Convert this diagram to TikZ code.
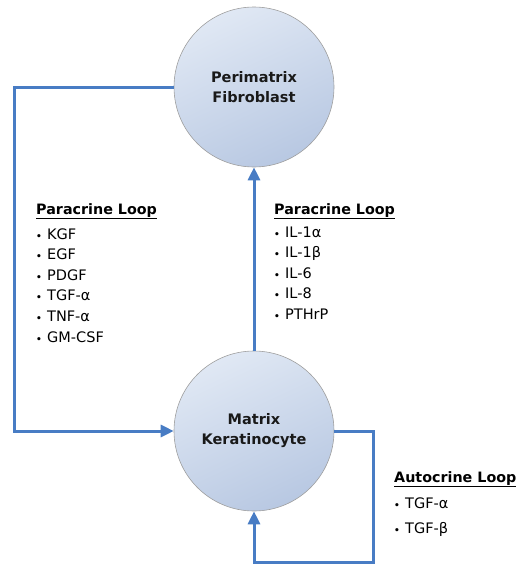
\documentclass[tikz,border=0pt]{standalone}
\usepackage{fontspec}
\setmainfont{DejaVu Sans}
\usetikzlibrary{arrows.meta}
\definecolor{linkblue}{RGB}{72,124,196}
\definecolor{celltop}{RGB}{224,232,244}
\definecolor{cellbot}{RGB}{184,200,226}
\begin{document}
\begin{tikzpicture}[x=1pt,y=-1pt,
  cell/.style={circle,minimum size=160pt,inner sep=0pt,draw=gray!75,line width=0.6pt,
    top color=celltop,bottom color=cellbot,shading angle=25,
    font=\fontsize{14.5}{20}\selectfont\bfseries,align=center,text=black!90},
  link/.style={draw=linkblue,line width=3pt},
  tip/.style={-{Triangle[length=13pt,width=12pt]}},
  title/.style={anchor=base west,inner sep=0pt,font=\fontsize{14.3}{17}\selectfont\bfseries},
  item/.style={anchor=base west,inner sep=0pt,font=\fontsize{14.5}{17}\selectfont},
  bul/.style={anchor=base west,inner sep=0pt,font=\fontsize{9}{10}\selectfont\bfseries}
]
\useasboundingbox (0,0) rectangle (524,568);
\node[cell] (fib) at (254,87) {Perimatrix\\Fibroblast};
\node[cell] (ker) at (254,431) {Matrix\\Keratinocyte};
\coordinate (l1) at (14,87);
\coordinate (l2) at (14,431);
\coordinate (r1) at (373,431);
\coordinate (r2) at (373,562);
\coordinate (r3) at (254,562);
\draw[link,tip] (fib.west) -- (l1) -- (l2) -- (ker.west);
\draw[link,tip] (ker.north) -- (fib.south);
\draw[link,tip] (ker.east) -- (r1) -- (r2) -- (r3) -- (ker.south);
% left list
\node[title] (lt) at (36,214) {\underline{Paracrine Loop}};
\foreach \t [count=\i] in {KGF,EGF,PDGF,TGF-α,TNF-α,GM-CSF}{
  \node[bul] (lb\i) at (36,239+20.6*\i-20.6) {•};
  \node[item] (li\i) at (47,239+20.6*\i-20.6) {\t};
}
% right list
\node[title] (rt) at (274,214) {\underline{Paracrine Loop}};
\foreach \t [count=\i] in {IL-1α,IL-1β,IL-6,IL-8,PTHrP}{
  \node[bul] (rb\i) at (274,237+20.5*\i-20.5) {•};
  \node[item] (ri\i) at (285,237+20.5*\i-20.5) {\t};
}
% autocrine list
\node[title] (at) at (394,482) {\underline{Autocrine Loop}};
\foreach \t [count=\i] in {TGF-α,TGF-β}{
  \node[bul] (ab\i) at (394,508+25*\i-25) {•};
  \node[item] (ai\i) at (405,508+25*\i-25) {\t};
}
\end{tikzpicture}
\end{document}
